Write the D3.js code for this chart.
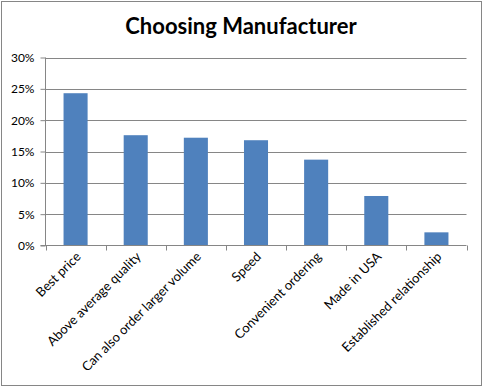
<!DOCTYPE html>
<html>
<head>
<meta charset="utf-8">
<script src="https://cdn.jsdelivr.net/npm/d3@7"></script>
<style>
	body { margin: 0; background: #fff; }
	svg { display: block; }
</style>
</head>
<body>
<div id="chart"></div>
<script>
// Chart data
var categories = ["Best price", "Above average quality", "Can also order larger volume", "Speed",
	"Convenient ordering", "Made in USA", "Established  relationship"];
var shares = [0.243, 0.176, 0.172, 0.168, 0.137, 0.079, 0.021];
var yTicks = [0, 0.05, 0.10, 0.15, 0.20, 0.25, 0.30];
var chartTitle = "Choosing Manufacturer";

var width = 483, height = 387;
var plot = { left: 45.5, right: 466.5, top: 57.5, bottom: 245.5 };
var fontFamily = "Lato, 'Open Sans', sans-serif";
var gridColor = "#868686";

var svg = d3.select("#chart").append("svg")
	.attr("width", width)
	.attr("height", height);

// Outer frame
svg.append("rect")
	.attr("x", 1.5).attr("y", 1.5)
	.attr("width", width - 3).attr("height", height - 3)
	.attr("fill", "#fff")
	.attr("stroke", gridColor)
	.attr("stroke-width", 1);

svg.append("text")
	.attr("x", 241)
	.attr("y", 34)
	.attr("text-anchor", "middle")
	.attr("font-family", fontFamily)
	.attr("font-weight", "bold")
	.attr("font-size", 22)
	.attr("fill", "#000")
	.text(chartTitle);

var x = d3.scaleBand()
	.domain(categories)
	.range([plot.left, plot.right])
	.paddingInner(0.6)
	.paddingOuter(0.3);

var xTickScale = d3.scaleLinear()
	.domain([0, categories.length])
	.range([plot.left, plot.right]);

var y = d3.scaleLinear()
	.domain([0, 0.30])
	.range([plot.bottom, plot.top]);

// Gridlines
svg.append("g")
	.selectAll("line")
	.data(yTicks.slice(1))
	.join("line")
	.attr("x1", plot.left)
	.attr("x2", plot.right)
	.attr("y1", function (d) { return Math.round(y(d)) + 0.5; })
	.attr("y2", function (d) { return Math.round(y(d)) + 0.5; })
	.attr("stroke", gridColor);

// Bars
svg.append("g")
	.selectAll("rect")
	.data(shares)
	.join("rect")
	.attr("x", function (d, i) { return x(categories[i]); })
	.attr("width", x.bandwidth())
	.attr("y", function (d) { return y(d); })
	.attr("height", function (d) { return plot.bottom - y(d); })
	.attr("fill", "#4f81bd");

// Y axis
var yAxis = d3.axisLeft(y)
	.tickValues(yTicks)
	.tickSize(5)
	.tickPadding(6)
	.tickFormat(d3.format(".0%"));

var yG = svg.append("g")
	.attr("transform", "translate(" + plot.left + ",0)")
	.call(yAxis);
yG.selectAll("path, line").attr("stroke", gridColor);
yG.select(".domain").attr("d", "M0," + plot.top + "V" + (plot.bottom + 0.5));
yG.selectAll("text")
	.attr("font-family", fontFamily)
	.attr("font-size", 12)
	.attr("fill", "#000");

// X axis line and ticks between categories
svg.append("line")
	.attr("x1", plot.left - 5)
	.attr("x2", plot.right)
	.attr("y1", plot.bottom)
	.attr("y2", plot.bottom)
	.attr("stroke", gridColor);

svg.append("g")
	.selectAll("line")
	.data(d3.range(categories.length + 1))
	.join("line")
	.attr("x1", function (d) { return Math.round(xTickScale(d)) + 0.5; })
	.attr("x2", function (d) { return Math.round(xTickScale(d)) + 0.5; })
	.attr("y1", plot.bottom)
	.attr("y2", plot.bottom + 5)
	.attr("stroke", gridColor);

// Rotated category labels
svg.append("g")
	.selectAll("text")
	.data(categories)
	.join("text")
	.attr("transform", function (d) {
		return "translate(" + (x(d) + x.bandwidth() / 2 + 6) + "," + (plot.bottom + 12) + ") rotate(-45)";
	})
	.attr("text-anchor", "end")
	.attr("font-family", fontFamily)
	.attr("font-size", 13)
	.attr("fill", "#000")
	.text(function (d) { return d; });
</script>
</body>
</html>
